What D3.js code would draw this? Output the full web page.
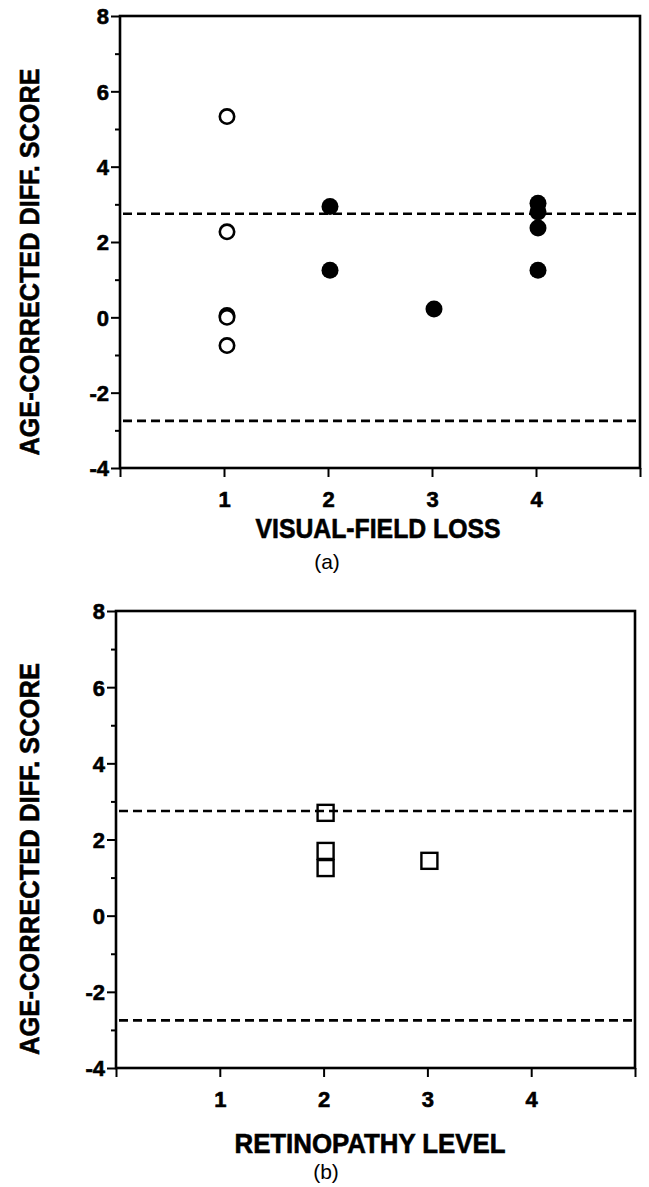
<!DOCTYPE html>
<html>
<head>
<meta charset="utf-8">
<script src="https://cdn.jsdelivr.net/npm/d3@7"></script>
<style>
  html, body { margin: 0; padding: 0; background: #fff; }
  svg { display: block; }
  text { font-family: "Liberation Sans", Arial, sans-serif; fill: #000; }
  .heavy { stroke: #000; stroke-width: 0.6px; }
</style>
</head>
<body>
<svg id="chart" width="649" height="1187"></svg>
<script>
// ---- data ----
const yTickValues = [-4, -2, 0, 2, 4, 6, 8];
const yTickLabels = ["-4", "-2", "0", "2", "4", "6", "8"];
const yMinorValues = [-3, -1, 1, 3, 5, 7];
const xTickValues = [0, 1, 2, 3, 4, 5];
const xTickLabels = ["", "1", "2", "3", "4", ""];
const limitValues = [2.75, -2.75];

// panel (a): visual-field loss
const openX = [1, 1, 1, 1, 1];
const openY = [5.33, 2.27, 0.05, 0.0, -0.75];
const filledX = [2, 2, 3, 4, 4, 4, 4];
const filledY = [2.94, 1.25, 0.22, 3.03, 2.8, 2.37, 1.25];

// panel (b): retinopathy level
const squareX = [2, 2, 2, 3];
const squareY = [2.7, 1.7, 1.25, 1.44];

const yLabel = "AGE-CORRECTED DIFF. SCORE";
const xTitleA = "VISUAL-FIELD LOSS";
const xTitleB = "RETINOPATHY LEVEL";

const svg = d3.select("#chart");

function panel(cfg) {
  const x = d3.scaleLinear().domain([0, 5]).range([cfg.x0, cfg.x1]);
  const y = d3.scaleLinear().domain([-4, 8]).range([cfg.yb, cfg.yt]);
  const g = svg.append("g");

  // frame
  g.append("rect")
    .attr("x", x(0)).attr("y", y(8))
    .attr("width", x(5) - x(0)).attr("height", y(-4) - y(8))
    .attr("fill", "none").attr("stroke", "#000").attr("stroke-width", 2.6);

  // y axis (left)
  const yAxis = d3.axisLeft(y).tickValues(yTickValues).tickSize(9).tickFormat("");
  const ya = g.append("g").attr("transform", `translate(${x(0)},0)`).call(yAxis);
  ya.select(".domain").remove();
  ya.selectAll(".tick line").attr("stroke", "#000").attr("stroke-width", 2);
  ya.selectAll(".tick").append("text")
    .attr("class", "heavy")
    .attr("x", -11).attr("dy", "0.36em")
    .attr("text-anchor", "end")
    .style("font-size", "22px").style("font-weight", "bold")
    .style("fill", "#000")
    .text((d, i) => yTickLabels[i]);

  const yMinor = d3.axisLeft(y).tickValues(yMinorValues).tickSize(5).tickFormat("");
  const ym = g.append("g").attr("transform", `translate(${x(0)},0)`).call(yMinor);
  ym.select(".domain").remove();
  ym.selectAll(".tick line").attr("stroke", "#000").attr("stroke-width", 2);

  // x axis (bottom)
  const xAxis = d3.axisBottom(x).tickValues(xTickValues).tickSize(9).tickFormat("");
  const xa = g.append("g").attr("transform", `translate(0,${y(-4)})`).call(xAxis);
  xa.select(".domain").remove();
  xa.selectAll(".tick line").attr("stroke", "#000").attr("stroke-width", 2);
  xa.selectAll(".tick").append("text")
    .attr("class", "heavy")
    .attr("y", 39).attr("text-anchor", "middle")
    .style("font-size", "22px").style("font-weight", "bold")
    .style("fill", "#000")
    .text((d, i) => xTickLabels[i]);

  // limit lines
  g.selectAll(".limit").data(limitValues).enter().append("line")
    .attr("x1", x(0) + 3).attr("x2", x(5))
    .attr("y1", d => y(d)).attr("y2", d => y(d))
    .attr("stroke", "#000").attr("stroke-width", 2.6)
    .attr("stroke-dasharray", "9,5");

  // y label
  g.append("text")
    .attr("class", "heavy")
    .attr("transform", `translate(${cfg.ylabX},${cfg.ylabY}) rotate(-90)`)
    .attr("text-anchor", "middle")
    .attr("textLength", cfg.ylabLen).attr("lengthAdjust", "spacingAndGlyphs")
    .style("font-size", "27px").style("font-weight", "bold")
    .text(yLabel);

  // x title
  g.append("text")
    .attr("class", "heavy")
    .attr("x", cfg.xtX).attr("y", cfg.xtY)
    .attr("text-anchor", "middle")
    .attr("textLength", cfg.xtLen).attr("lengthAdjust", "spacingAndGlyphs")
    .style("font-size", "27px").style("font-weight", "bold")
    .text(cfg.title);

  // panel tag
  g.append("text")
    .attr("x", cfg.tagX).attr("y", cfg.tagY)
    .attr("text-anchor", "middle")
    .style("font-size", "21px")
    .text(cfg.tag);

  return { g, x, y };
}

// ---- panel (a) ----
const A = panel({
  x0: 120, x1: 640, yt: 16, yb: 468,
  ylabX: 39, ylabY: 262, ylabLen: 387,
  xtX: 378, xtY: 538, xtLen: 245, title: xTitleA,
  tagX: 327, tagY: 569, tag: "(a)"
});

A.g.selectAll(".open").data(openX.map((d, i) => [d, openY[i]])).enter()
  .append("circle")
  .attr("cx", d => A.x(d[0]) + 3).attr("cy", d => A.y(d[1]))
  .attr("r", 7.2)
  .attr("fill", "#fff").attr("stroke", "#000").attr("stroke-width", 2.6);

A.g.selectAll(".filled").data(filledX.map((d, i) => [d, filledY[i]])).enter()
  .append("circle")
  .attr("cx", d => A.x(d[0]) + 2).attr("cy", d => A.y(d[1]))
  .attr("r", 8.5)
  .attr("fill", "#000");

// ---- panel (b) ----
const B = panel({
  x0: 116, x1: 635, yt: 611, yb: 1068,
  ylabX: 39, ylabY: 859, ylabLen: 392,
  xtX: 370, xtY: 1153, xtLen: 271, title: xTitleB,
  tagX: 326, tagY: 1179, tag: "(b)"
});

const sq = 16;
B.g.selectAll(".sq").data(squareX.map((d, i) => [d, squareY[i]])).enter()
  .append("rect")
  .attr("x", d => B.x(d[0]) + 2 - sq / 2).attr("y", d => B.y(d[1]) - sq / 2)
  .attr("width", sq).attr("height", sq)
  .attr("fill", "none").attr("stroke", "#000").attr("stroke-width", 2.4);
</script>
</body>
</html>
